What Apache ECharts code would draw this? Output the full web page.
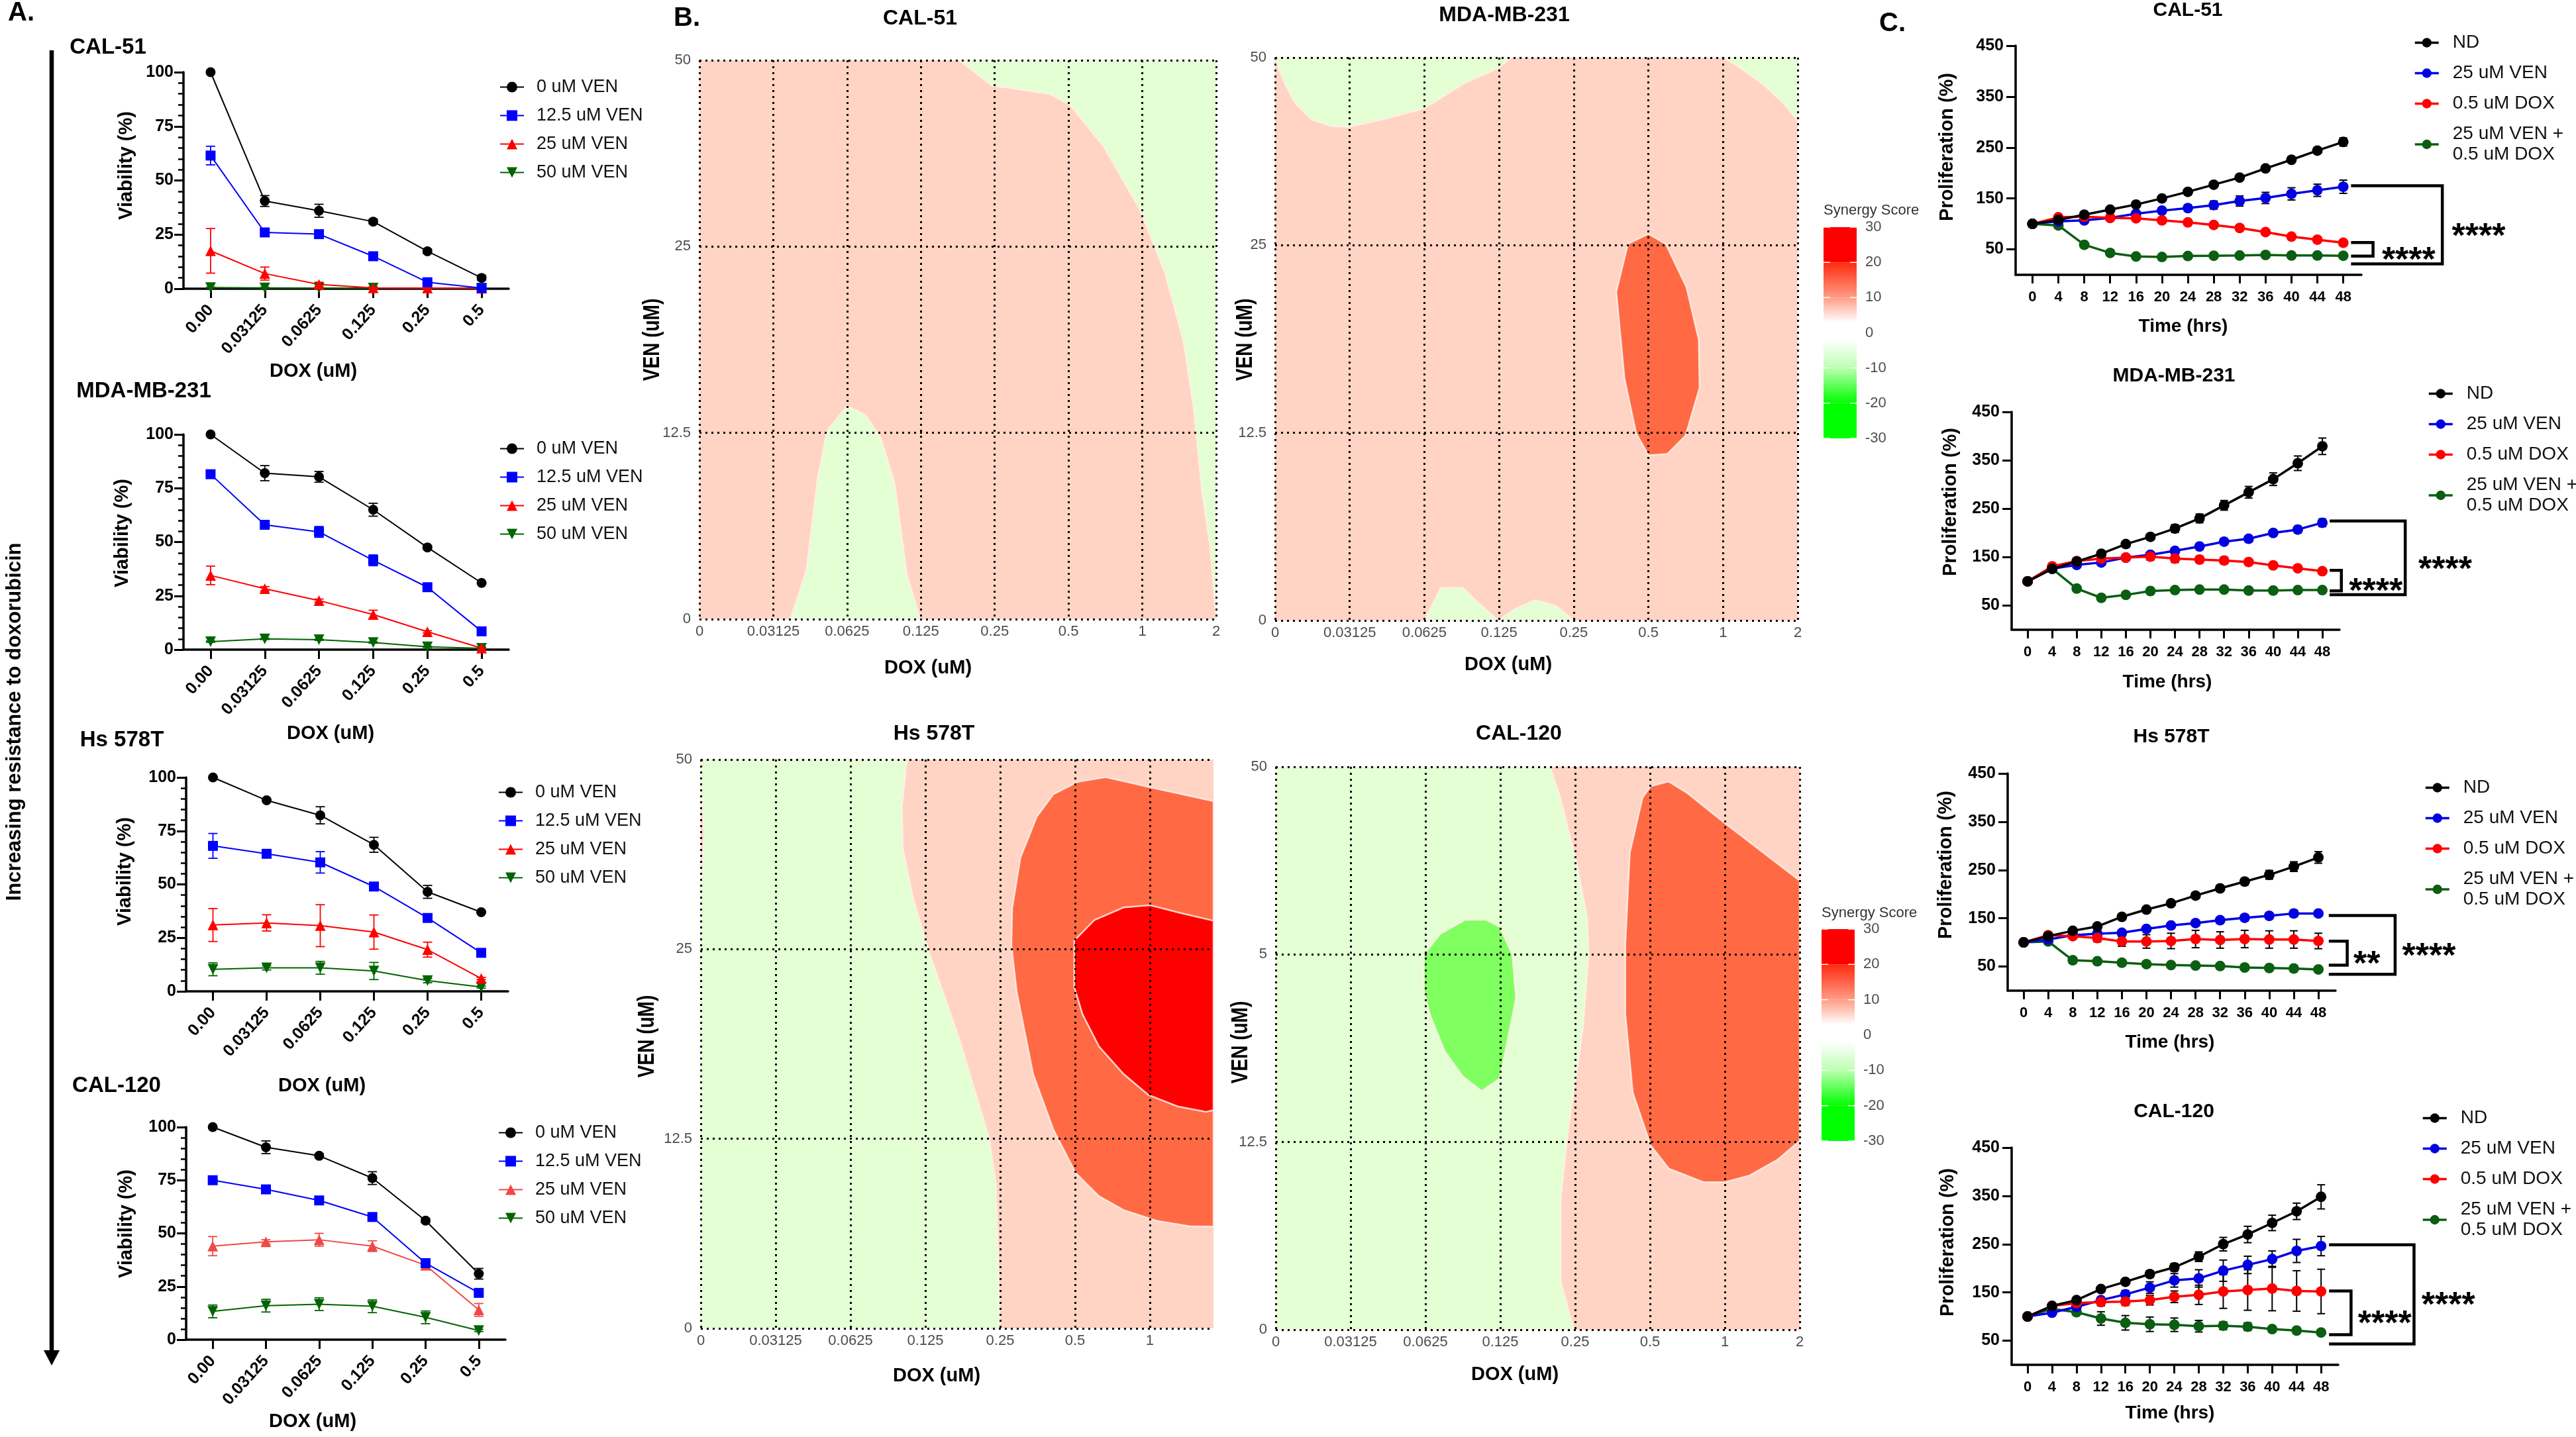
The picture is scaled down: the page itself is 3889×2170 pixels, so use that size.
<!DOCTYPE html>
<html>
<head>
<meta charset="utf-8">
<title>Venetoclax doxorubicin synergy</title>
<script src="https://cdn.jsdelivr.net/npm/echarts@6/dist/echarts.min.js"></script>
<style>
  html, body { margin: 0; padding: 0; background: #fff; }
  #main { width: 3889px; height: 2170px; }
</style>
</head>
<body>
<div id="main"></div>
<script>
// ---------- panel A: viability (%) against DOX dose ----------
const doxDoses = ['0.00', '0.03125', '0.0625', '0.125', '0.25', '0.5'];
const venNames = ['0 uM VEN', '12.5 uM VEN', '25 uM VEN', '50 uM VEN'];

const cal51Ven0 = [100, 40.5, 36, 31, 17.3, 5];
const cal51Ven12 = [61.5, 26, 25.2, 15, 3, 0.3];
const cal51Ven25 = [17.5, 7, 2, 0.4, 0.3, 0.2];
const cal51Ven50 = [0.5, 0.4, 0.3, 0.3, 0.2, 0.2];
const cal51Ven0Err = [0, 2.5, 3, 1, 1, 1];
const cal51Ven12Err = [4.3, 1, 1, 1, 0.5, 0.3];
const cal51Ven25Err = [10.3, 3, 1, 0.5, 0.3, 0.3];
const cal51Ven50Err = [0.2, 0.2, 0.2, 0.2, 0.1, 0.1];

const mdaVen0 = [100, 82, 80.3, 65, 47.5, 31];
const mdaVen12 = [81.5, 58, 54.7, 41.5, 29, 8.5];
const mdaVen25 = [34.5, 28.3, 22.8, 16.3, 8.3, 0.7];
const mdaVen50 = [3.7, 5, 4.6, 3.3, 1.3, 0.6];
const mdaVen0Err = [0, 3.5, 2.5, 3, 0.5, 0.5];
const mdaVen12Err = [0, 1, 2.5, 2.5, 1, 1];
const mdaVen25Err = [4.3, 1, 0.7, 2, 0.5, 0.5];
const mdaVen50Err = [0.3, 0.3, 0.3, 0.3, 0.3, 0.3];

const hsVen0 = [100, 89.3, 82.3, 68.5, 46.5, 37];
const hsVen12 = [68, 64.3, 60.3, 49, 34.3, 18];
const hsVen25 = [31, 32, 30.7, 27.7, 19.5, 6];
const hsVen50 = [10.3, 11, 11, 9.5, 5, 2];
const hsVen0Err = [0, 0.5, 4, 3.5, 3, 0.5];
const hsVen12Err = [5.8, 1, 5, 1, 1, 1];
const hsVen25Err = [7.7, 3.8, 9.8, 8, 3.5, 0.5];
const hsVen50Err = [3, 1, 3, 4, 1, 0.5];

const cal120Ven0 = [100, 90.5, 86.5, 76, 56, 31];
const cal120Ven12 = [75, 70.7, 65.5, 57.7, 36, 22];
const cal120Ven25 = [44, 46, 47, 44, 35, 14];
const cal120Ven50 = [13.3, 16, 16.7, 15.7, 10.5, 4.3];
const cal120Ven0Err = [0, 3, 1, 3, 1, 2.5];
const cal120Ven12Err = [0, 1, 1, 1, 2, 1];
const cal120Ven25Err = [4.5, 1, 3, 2.5, 1, 3];
const cal120Ven50Err = [3, 3, 3, 3, 3, 0.5];

// ---------- panel B: synergy contours, [dose step, VEN step] outlines ----------
const synergyDoseLabels = ['0', '0.03125', '0.0625', '0.125', '0.25', '0.5', '1', '2'];
const synergyVenLabels = ['0', '12.5', '25', '50'];
const synergyVenLabelsCut = ['0', '12.5', '5', '50'];

const cal51GreenTop = [[3.52, 3], [3.96, 2.865], [4.74, 2.82], [5.02, 2.76], [5.47, 2.54], [5.97, 2.197], [6.31, 1.855], [6.56, 1.488], [6.7, 1.12], [6.81, 0.68], [6.92, 0.387], [7, 0], [7, 3]];
const cal51GreenLow = [[1.23, 0], [1.45, 0.264], [1.6, 0.754], [1.73, 1.01], [2, 1.145], [2.25, 1.096], [2.455, 0.974], [2.645, 0.729], [2.81, 0.24], [2.99, 0]];

const mdaGreenLeft = [[0, 3], [0.12, 2.87], [0.265, 2.76], [0.486, 2.67], [0.75, 2.635], [0.994, 2.63], [1.5, 2.676], [2, 2.73], [2.52, 2.86], [2.99, 2.944], [3.16, 3]];
const mdaGreenRight = [[6, 3], [6.14, 2.97], [6.53, 2.86], [6.8, 2.76], [7, 2.664], [7, 3]];
const mdaGreenLow1 = [[2, 0], [2.22, 0.175], [2.517, 0.175], [2.716, 0.097], [2.99, 0]];
const mdaGreenLow2 = [[2.99, 0], [3.21, 0.061], [3.49, 0.109], [3.765, 0.078], [4, 0]];
const mdaOrange = [[5, 2.061], [5.233, 2.007], [5.51, 1.776], [5.675, 1.496], [5.686, 1.241], [5.498, 0.985], [5.256, 0.888], [5, 0.881], [4.836, 0.998], [4.68, 1.29], [4.57, 1.752], [4.726, 2.007]];

const hsGreen = [[0, 3], [2.753, 3], [2.687, 2.75], [2.7, 2.53], [2.84, 2.264], [3.06, 1.972], [3.447, 1.535], [3.855, 1], [3.943, 0.758], [3.998, 0], [0, 0], [0, 2.3], [0.045, 2.6], [0, 2.87]];
const hsOrange = [[6.85, 2.781], [6, 2.854], [5.41, 2.907], [5.04, 2.883], [4.71, 2.817], [4.49, 2.7], [4.27, 2.482], [4.16, 2.215], [4.15, 2.02], [4.22, 1.778], [4.44, 1.341], [4.71, 1.049], [5.01, 0.819], [5.32, 0.697], [5.65, 0.624], [6.09, 0.568], [6.53, 0.539], [6.85, 0.537]];
const hsRed = [[6.85, 2.15], [6.42, 2.19], [6, 2.232], [5.65, 2.22], [5.26, 2.154], [4.99, 2.045], [4.99, 1.8], [5.1, 1.657], [5.32, 1.487], [5.65, 1.341], [5.98, 1.231], [6.37, 1.171], [6.75, 1.142], [6.85, 1.151]];

const cal120Green = [[0, 3], [3.665, 3], [3.8, 2.836], [4.017, 2.492], [4.16, 2.197], [4.18, 2], [4.105, 1.608], [3.907, 1.068], [3.808, 0.7], [3.808, 0.258], [3.984, 0], [0, 0]];
const cal120Lime = [[2.53, 2.185], [2.81, 2.185], [2.99, 2.148], [3.16, 2], [3.21, 1.768], [3.08, 1.51], [2.99, 1.338], [2.75, 1.272], [2.5, 1.35], [2.256, 1.485], [2.058, 1.682], [1.98, 1.805], [1.98, 2], [2.2, 2.11]];
const cal120Orange = [[5.25, 2.922], [5.5, 2.86], [6, 2.7], [7, 2.394], [7, 1.007], [6.71, 0.908], [6.33, 0.822], [6, 0.786], [5.72, 0.786], [5.25, 0.859], [5.01, 0.982], [4.77, 1.264], [4.67, 1.682], [4.67, 2.05], [4.73, 2.541], [4.9, 2.836], [5.01, 2.897]];

const scaleTicks = [-30, -20, -10, 0, 10, 20, 30];
const scaleScores = [-30, -20, -10, -2, 3, 10, 20, 20.01, 30];
const scaleColors = ['#00ff00', '#00ff00', '#bcffb0', '#ffffff', '#ffffff', '#ff9c84', '#ff2a10', '#ff0000', '#ff0000'];

// ---------- panel C: proliferation (%) against time ----------
const hours = [0, 4, 8, 12, 16, 20, 24, 28, 32, 36, 40, 44, 48];
// trailing space keeps this apart from the panel A series of the same name in the legend lookup
const timeNames = ['ND', '25 uM VEN ', '0.5 uM DOX', '25 uM VEN +\n0.5 uM DOX'];

const cal51Nd = [100, 108, 118, 128, 138, 150, 163, 177, 191, 209, 226, 244, 261];
const cal51Ven = [100, 105, 107, 112, 120, 126, 131, 137, 145, 151, 159, 166, 173];
const cal51Dox = [100, 113, 114, 112, 111, 107, 103, 98, 92, 84, 75, 69, 63];
const cal51Combo = [100, 97, 59, 43, 36, 35, 37, 37.5, 38, 39, 38, 38, 37.5];
const cal51NdErr = [0, 3, 3, 3, 3, 3, 4, 4, 4, 5, 5, 5, 8];
const cal51VenErr = [0, 3, 3, 3, 4, 6, 6, 8, 10, 11, 12, 12, 13];
const cal51DoxErr = [0, 4, 3, 3, 3, 3, 3, 3, 3, 3, 3, 3, 3];
const cal51ComboErr = [0, 3, 4, 4, 3, 3, 3, 3, 3, 3, 3, 3, 3];

const mdaNd = [100, 126, 141, 157, 177, 192, 209, 230, 257, 284, 311, 344, 379];
const mdaVen = [100, 126, 134, 139, 149, 155, 163, 172, 182, 188, 200, 207, 221];
const mdaDox = [100, 131, 142, 147, 149, 151, 147, 145, 143, 140, 133, 127, 121];
const mdaCombo = [100, 126, 85, 66, 72, 80, 82, 83, 83, 81, 81, 82, 82];
const mdaNdErr = [0, 4, 4, 5, 6, 6, 8, 9, 10, 12, 13, 15, 17];
const mdaVenErr = [0, 3, 3, 3, 4, 4, 5, 5, 6, 6, 6, 7, 8];
const mdaDoxErr = [0, 3, 4, 5, 6, 7, 8, 7, 7, 6, 5, 4, 3];
const mdaComboErr = [0, 3, 4, 3, 3, 3, 3, 3, 3, 3, 3, 3, 3];

const hsNd = [100, 113, 124, 133, 153, 168, 181, 197, 212, 226, 240, 257, 276];
const hsVen = [100, 106, 115, 118, 120, 128, 135, 140, 146, 151, 155, 160, 160];
const hsDox = [100, 115, 113, 109, 102, 102, 103, 107, 105, 107, 106, 106, 103];
const hsCombo = [100, 102, 63, 61, 58, 55, 53, 52, 51, 48, 47, 46, 44];
const hsNdErr = [0, 3, 3, 4, 4, 5, 5, 6, 6, 7, 9, 10, 12];
const hsVenErr = [0, 3, 3, 3, 3, 4, 5, 5, 6, 6, 6, 7, 6];
const hsDoxErr = [0, 3, 4, 8, 10, 14, 16, 18, 17, 18, 18, 18, 16];
const hsComboErr = [0, 3, 6, 4, 3, 3, 3, 3, 3, 3, 3, 3, 3];

const cal120Nd = [100, 122, 134, 157, 172, 188, 202, 224, 250, 270, 294, 318, 348];
const cal120Ven = [100, 108, 120, 134, 146, 160, 175, 179, 195, 207, 219, 236, 246];
const cal120Dox = [100, 122, 128, 130, 131, 134, 141, 145, 152, 155, 158, 153, 152];
const cal120Combo = [100, 116, 109, 96, 87, 84, 83, 80, 81, 79, 74, 71, 67];
const cal120NdErr = [0, 5, 5, 6, 5, 7, 8, 10, 14, 17, 16, 17, 25];
const cal120VenErr = [0, 5, 5, 5, 8, 12, 14, 18, 22, 18, 17, 24, 20];
const cal120DoxErr = [0, 5, 5, 8, 8, 10, 12, 20, 35, 42, 46, 42, 46];
const cal120ComboErr = [0, 3, 5, 14, 15, 15, 14, 12, 8, 8, 6, 5, 4];

// significance brackets, in [hours, percent]
const cal51Brackets = [[[49.2, 175], [63.3, 175], [63.3, 21.4], [49.2, 21.4]], [[49.2, 63.4], [52.6, 63.4], [52.6, 36.6], [49.2, 36.6]]];
const cal51Stars = [['****', 68.9, 90], ['****', 58.1, 43.7]];
const mdaBrackets = [[[49.2, 224.5], [61.5, 224.5], [61.5, 72.6], [49.2, 72.6]], [[49.2, 122.6], [51.1, 122.6], [51.1, 80.2], [49.2, 80.2]]];
const mdaStars = [['****', 68, 139.6], ['****', 56.7, 94.3]];
const hsBrackets = [[[49.7, 155.7], [60.5, 155.7], [60.5, 33.8], [49.7, 33.8]], [[49.7, 102.4], [52.7, 102.4], [52.7, 52.9], [49.7, 52.9]]];
const hsStars = [['****', 66, 87], ['**', 55.9, 70]];
const cal120Brackets = [[[49.3, 248.6], [63.2, 248.6], [63.2, 43.3], [49.3, 43.3]], [[49.3, 153.1], [52.9, 153.1], [52.9, 62.4], [49.3, 62.4]]];
const cal120Stars = [['****', 68.8, 138.8], ['****', 58.4, 100.6]];

const FONT = '"Liberation Sans", Arial, sans-serif';
const grid = [], xAxis = [], yAxis = [], series = [], legend = [], graphic = [];

function addGrid(box, extra) {
  grid.push(Object.assign({left: box[0], top: box[1], width: box[2] - box[0], height: box[3] - box[1]}, extra));
  return grid.length - 1;
}

function addText(text, x, y, size, opts) {
  opts = opts || {};
  graphic.push({
    type: 'text', x: x, y: y, rotation: opts.rotate || 0, scaleY: opts.scaleY || 1, silent: true,
    style: {
      text: text, fill: opts.color || '#000', align: opts.align || 'center', verticalAlign: 'middle',
      font: (opts.weight || 'bold') + ' ' + size + 'px ' + FONT
    }
  });
}

function errorSeries(gi, points, color, cap, width, z) {
  series.push({
    type: 'custom', xAxisIndex: gi, yAxisIndex: gi, clip: false, z: z, silent: true,
    data: points, encode: {x: 0, y: [1, 2]},
    renderItem: function (params, api) {
      const lo = api.coord([api.value(0), api.value(1)]);
      const hi = api.coord([api.value(0), api.value(2)]);
      const style = {stroke: color, lineWidth: width, fill: null};
      return {type: 'group', children: [
        {type: 'line', shape: {x1: lo[0], y1: lo[1], x2: hi[0], y2: hi[1]}, style: style},
        {type: 'line', shape: {x1: lo[0] - cap, y1: lo[1], x2: lo[0] + cap, y2: lo[1]}, style: style},
        {type: 'line', shape: {x1: hi[0] - cap, y1: hi[1], x2: hi[0] + cap, y2: hi[1]}, style: style}
      ]};
    }
  });
}

// ---------- panel A ----------
const venStyles = [
  {symbol: 'circle', size: 15, color: '#000000', rotate: 0},
  {symbol: 'rect', size: 15, color: '#0000ff', rotate: 0},
  {symbol: 'triangle', size: 16, color: '#ff0000', rotate: 0},
  {symbol: 'triangle', size: 16, color: '#006400', rotate: 180}
];

function viabilityPanel(box, lines, errs, legendPos, red) {
  const gi = addGrid(box);
  xAxis.push({
    type: 'category', gridIndex: gi, data: doxDoses, boundaryGap: true,
    axisLine: {lineStyle: {color: '#000', width: 3.5}},
    axisTick: {show: true, alignWithLabel: true, length: 14, lineStyle: {color: '#000', width: 3}},
    axisLabel: {rotate: 48, margin: 28, color: '#000', fontFamily: FONT, fontWeight: 'bold', fontSize: 25, interval: 0},
    splitLine: {show: false}
  });
  yAxis.push({
    type: 'value', gridIndex: gi, min: 0, max: 100, interval: 25,
    axisLine: {show: true, lineStyle: {color: '#000', width: 3.5}},
    axisTick: {show: true, length: 14, lineStyle: {color: '#000', width: 3}},
    minorTick: {show: true, splitNumber: 5, length: 8, lineStyle: {color: '#000', width: 2.5}},
    axisLabel: {margin: 15, color: '#000', fontFamily: FONT, fontWeight: 'bold', fontSize: 25},
    splitLine: {show: false}
  });
  // 50 uM first so that 0 uM ends up on top
  for (let i = 3; i >= 0; i--) {
    const s = venStyles[i];
    const color = i === 2 && red ? red : s.color;
    errorSeries(gi, lines[i].map(function (v, k) { return [k, v - errs[i][k], v + errs[i][k]]; }), color, 7, 1.8, 3);
    series.push({
      type: 'line', name: venNames[i], xAxisIndex: gi, yAxisIndex: gi, data: lines[i], clip: false, z: 4,
      symbol: s.symbol, symbolSize: s.size, symbolRotate: s.rotate,
      lineStyle: {color: color, width: 2}, itemStyle: {color: color}
    });
  }
  legend.push({
    orient: 'vertical', left: legendPos[0], top: legendPos[1], itemGap: 16, itemWidth: 36, itemHeight: 20,
    textStyle: {fontFamily: FONT, fontSize: 27, color: '#111', padding: [0, 0, 0, 14]},
    data: venNames.map(function (n, i) {
      const color = i === 2 && red ? red : venStyles[i].color;
      return {name: n, itemStyle: {color: color}, lineStyle: {color: color, width: 2}};
    })
  });
}

viabilityPanel([277, 109, 768, 436], [cal51Ven0, cal51Ven12, cal51Ven25, cal51Ven50], [cal51Ven0Err, cal51Ven12Err, cal51Ven25Err, cal51Ven50Err], [749, 113]);
viabilityPanel([277, 656, 768, 981], [mdaVen0, mdaVen12, mdaVen25, mdaVen50], [mdaVen0Err, mdaVen12Err, mdaVen25Err, mdaVen50Err], [749, 659]);
viabilityPanel([281, 1174, 767, 1497], [hsVen0, hsVen12, hsVen25, hsVen50], [hsVen0Err, hsVen12Err, hsVen25Err, hsVen50Err], [747, 1178]);
viabilityPanel([281, 1702, 763, 2023], [cal120Ven0, cal120Ven12, cal120Ven25, cal120Ven50], [cal120Ven0Err, cal120Ven12Err, cal120Ven25Err, cal120Ven50Err], [747, 1692], '#f04848');

// ---------- panel B ----------
const PEACH = '#ffd4c4', PALE_GREEN = '#e3ffd3', ORANGE = '#ff6a45', RED = '#ff0000', LIME = '#80ff60';

function contourSeries(gi, points, fill, z) {
  series.push({
    type: 'custom', xAxisIndex: gi, yAxisIndex: gi, z: z, silent: true, clip: false,
    data: points, encode: {x: 0, y: 1},
    renderItem: function (params, api) {
      if (params.dataIndex !== 0) return null;
      return {
        type: 'polygon',
        shape: {points: points.map(function (p) { return api.coord(p); })},
        style: {fill: fill, stroke: 'rgba(255,240,232,0.85)', lineWidth: 2.5}
      };
    }
  });
}

function synergyPanel(box, xMax, venLabels, regions) {
  const gi = addGrid(box, {show: true, backgroundColor: PEACH, borderWidth: 0});
  xAxis.push({
    type: 'value', gridIndex: gi, min: 0, max: xMax, interval: 1, z: 10,
    axisLine: {show: false}, axisTick: {show: false},
    axisLabel: {
      margin: 8, color: '#4d4d4d', fontFamily: FONT, fontSize: 22, hideOverlap: false,
      formatter: function (v) { return Number.isInteger(v) ? synergyDoseLabels[v] : ''; }
    },
    splitLine: {show: true, showMaxLine: xMax === 7, lineStyle: {color: '#000', width: 3, type: [3, 6]}}
  });
  yAxis.push({
    type: 'value', gridIndex: gi, min: 0, max: 3, interval: 1, z: 10,
    axisLine: {show: false}, axisTick: {show: false},
    axisLabel: {
      margin: 13, color: '#4d4d4d', fontFamily: FONT, fontSize: 22,
      formatter: function (v) { return venLabels[v]; }
    },
    splitLine: {show: true, lineStyle: {color: '#000', width: 3, type: [3, 6]}}
  });
  regions.forEach(function (r, i) { contourSeries(gi, r[0], r[1], 2 + i * 0.01); });
}

synergyPanel([1056, 91, 1836, 935], 7, synergyVenLabels, [[cal51GreenTop, PALE_GREEN], [cal51GreenLow, PALE_GREEN]]);
synergyPanel([1925, 87, 2714, 937], 7, synergyVenLabels, [[mdaGreenLeft, PALE_GREEN], [mdaGreenRight, PALE_GREEN], [mdaGreenLow1, PALE_GREEN], [mdaGreenLow2, PALE_GREEN], [mdaOrange, ORANGE]]);
synergyPanel([1058, 1147, 1832, 2006], 6.85, synergyVenLabels, [[hsGreen, PALE_GREEN], [hsOrange, ORANGE], [hsRed, RED]]);
synergyPanel([1926, 1158, 2717, 2008], 7, synergyVenLabelsCut, [[cal120Green, PALE_GREEN], [cal120Lime, LIME], [cal120Orange, ORANGE]]);

function scalePanel(box) {
  const gi = addGrid(box);
  xAxis.push({type: 'value', gridIndex: gi, min: 0, max: 1, show: false});
  yAxis.push({
    type: 'value', gridIndex: gi, min: -30, max: 30, interval: 10,
    axisLine: {show: false}, axisTick: {show: false}, splitLine: {show: false},
    axisLabel: {margin: -63, align: 'left', color: '#4d4d4d', fontFamily: FONT, fontSize: 22}
  });
  // cells between neighbouring score stops, ticks drawn on top in white
  series.push({
    type: 'custom', xAxisIndex: gi, yAxisIndex: gi, silent: true, z: 3,
    data: scaleScores.slice(0, -1).map(function (s, i) { return [s, scaleScores[i + 1], i]; }),
    encode: {y: [0, 1]},
    renderItem: function (params, api) {
      const a = api.coord([0, api.value(0)]), b = api.coord([1, api.value(1)]);
      const i = api.value(2);
      return {
        type: 'rect', shape: {x: a[0], y: b[1], width: b[0] - a[0], height: a[1] - b[1]},
        style: {fill: new echarts.graphic.LinearGradient(0, 1, 0, 0, [
          {offset: 0, color: scaleColors[i]}, {offset: 1, color: scaleColors[i + 1]}
        ])}
      };
    }
  });
  series.push({
    type: 'custom', xAxisIndex: gi, yAxisIndex: gi, silent: true, z: 4,
    data: scaleTicks.map(function (t) { return [t]; }),
    encode: {y: 0},
    renderItem: function (params, api) {
      const a = api.coord([0, api.value(0)]), b = api.coord([1, api.value(0)]);
      const style = {stroke: '#fff', lineWidth: 1.5};
      return {type: 'group', children: [
        {type: 'line', shape: {x1: a[0], y1: a[1], x2: a[0] + 10, y2: a[1]}, style: style},
        {type: 'line', shape: {x1: b[0] - 10, y1: a[1], x2: b[0], y2: a[1]}, style: style}
      ]};
    }
  });
}
scalePanel([2753, 343, 2803, 662]);
scalePanel([2750, 1403, 2800, 1723]);

// ---------- panel C ----------
const timeColors = ['#000000', '#0000e0', '#ff0000', '#0b5e12'];
const percentTicks = [50, 150, 250, 350, 450];

function timePanel(box, lines, errs, brackets, stars, legendPos) {
  const gi = addGrid(box);
  xAxis.push({
    type: 'value', gridIndex: gi, min: -2.6, max: 50.8,
    axisLine: {onZero: false, lineStyle: {color: '#000', width: 3.5}},
    axisTick: {show: true, customValues: hours, length: 13, lineStyle: {color: '#000', width: 3}},
    axisLabel: {customValues: hours, margin: 23, color: '#000', fontFamily: FONT, fontWeight: 'bold', fontSize: 22},
    splitLine: {show: false}
  });
  yAxis.push({
    type: 'value', gridIndex: gi, min: 0, max: 450,
    axisLine: {show: true, onZero: false, lineStyle: {color: '#000', width: 3.5}},
    axisTick: {show: true, customValues: percentTicks, length: 14, lineStyle: {color: '#000', width: 3}},
    axisLabel: {customValues: percentTicks, margin: 18, color: '#000', fontFamily: FONT, fontWeight: 'bold', fontSize: 25},
    splitLine: {show: false}
  });
  [3, 1, 2, 0].forEach(function (i) {
    errorSeries(gi, hours.map(function (h, k) { return [h, lines[i][k] - errs[i][k], lines[i][k] + errs[i][k]]; }), '#000', 6, 2, 3);
    series.push({
      type: 'line', name: timeNames[i], xAxisIndex: gi, yAxisIndex: gi, clip: false, z: 4,
      data: hours.map(function (h, k) { return [h, lines[i][k]]; }),
      symbol: 'circle', symbolSize: 16,
      lineStyle: {color: timeColors[i], width: 3.5}, itemStyle: {color: timeColors[i]}
    });
  });
  series.push({
    type: 'custom', xAxisIndex: gi, yAxisIndex: gi, silent: true, clip: false, z: 5,
    data: [[48, 100]], encode: {x: 0, y: 1},
    renderItem: function (params, api) {
      const kids = brackets.map(function (b) {
        return {type: 'polyline', shape: {points: b.map(function (p) { return api.coord(p); })}, style: {stroke: '#000', lineWidth: 4.5, fill: null}};
      });
      stars.forEach(function (s) {
        const at = api.coord([s[1], s[2]]);
        kids.push({type: 'text', x: at[0], y: at[1] + 13, style: {text: s[0], fill: '#000', align: 'center', verticalAlign: 'middle', font: 'bold 52px ' + FONT}});
      });
      return {type: 'group', children: kids};
    }
  });
  legend.push({
    orient: 'vertical', left: legendPos[0], top: legendPos[1], itemGap: 15, itemWidth: 36, itemHeight: 18,
    textStyle: {fontFamily: FONT, fontSize: 28, color: '#111', lineHeight: 31, padding: [0, 0, 0, 16]},
    data: timeNames.map(function (n, i) {
      return {name: n, itemStyle: {color: timeColors[i]}, lineStyle: {color: timeColors[i], width: 3.5}};
    })
  });
}

timePanel([3043, 69, 3565, 415], [cal51Nd, cal51Ven, cal51Dox, cal51Combo], [cal51NdErr, cal51VenErr, cal51DoxErr, cal51ComboErr], cal51Brackets, cal51Stars, [3639, 44]);
timePanel([3037, 622, 3532, 951], [mdaNd, mdaVen, mdaDox, mdaCombo], [mdaNdErr, mdaVenErr, mdaDoxErr, mdaComboErr], mdaBrackets, mdaStars, [3660, 574]);
timePanel([3031, 1168, 3526, 1496], [hsNd, hsVen, hsDox, hsCombo], [hsNdErr, hsVenErr, hsDoxErr, hsComboErr], hsBrackets, hsStars, [3655, 1169]);
timePanel([3037, 1733, 3530, 2061], [cal120Nd, cal120Ven, cal120Dox, cal120Combo], [cal120NdErr, cal120VenErr, cal120DoxErr, cal120ComboErr], cal120Brackets, cal120Stars, [3651, 1668]);

// ---------- loose text and the resistance arrow ----------
addText('A.', 32, 20, 40);
addText('B.', 1037, 28, 40);
addText('C.', 2857, 36, 40);

addText('CAL-51', 163, 72, 33);
addText('MDA-MB-231', 217, 591, 33);
addText('Hs 578T', 184, 1118, 33);
addText('CAL-120', 176, 1640, 33);

addText('DOX (uM)', 473, 561, 29);
addText('DOX (uM)', 499, 1108, 29);
addText('DOX (uM)', 486, 1640, 29);
addText('DOX (uM)', 472, 2147, 29);

const UP = Math.PI / 2;
addText('Viability (%)', 191, 250, 29, {rotate: UP});
addText('Viability (%)', 185, 805, 29, {rotate: UP});
addText('Viability (%)', 189, 1316, 29, {rotate: UP});
addText('Viability (%)', 191, 1848, 29, {rotate: UP});

addText('CAL-51', 1389, 28, 32);
addText('MDA-MB-231', 2271, 23, 32);
addText('Hs 578T', 1410, 1108, 32);
addText('CAL-120', 2293, 1108, 32);

addText('DOX (uM)', 1401, 1009, 29);
addText('DOX (uM)', 2277, 1004, 29);
addText('DOX (uM)', 1414, 2078, 29);
addText('DOX (uM)', 2287, 2076, 29);

addText('VEN (uM)', 985, 513, 28, {rotate: UP, scaleY: 1.25});
addText('VEN (uM)', 1880, 513, 28, {rotate: UP, scaleY: 1.25});
addText('VEN (uM)', 977, 1565, 28, {rotate: UP, scaleY: 1.25});
addText('VEN (uM)', 1873, 1574, 28, {rotate: UP, scaleY: 1.25});

addText('Synergy Score', 2753, 318, 22, {align: 'left', weight: 'normal', color: '#333'});
addText('Synergy Score', 2750, 1379, 22, {align: 'left', weight: 'normal', color: '#333'});

addText('CAL-51', 3303, 16, 30);
addText('MDA-MB-231', 3282, 568, 30);
addText('Hs 578T', 3278, 1113, 30);
addText('CAL-120', 3282, 1679, 30);

addText('Time (hrs)', 3296, 493, 28);
addText('Time (hrs)', 3272, 1030, 28);
addText('Time (hrs)', 3276, 1574, 28);
addText('Time (hrs)', 3276, 2134, 28);

addText('Proliferation (%)', 2940, 222, 29, {rotate: UP});
addText('Proliferation (%)', 2945, 758, 29, {rotate: UP});
addText('Proliferation (%)', 2938, 1306, 29, {rotate: UP});
addText('Proliferation (%)', 2941, 1876, 29, {rotate: UP});

addText('Increasing resistance to doxorubicin', 22, 1090, 31, {rotate: UP});

graphic.push({type: 'line', silent: true, shape: {x1: 78, y1: 76, x2: 78, y2: 2042}, style: {stroke: '#000', lineWidth: 6.5}});
graphic.push({type: 'polygon', silent: true, shape: {points: [[66, 2039], [90, 2039], [78, 2062]]}, style: {fill: '#000'}});

const chart = echarts.init(document.getElementById('main'), null, {renderer: 'canvas'});
chart.setOption({
  animation: false,
  backgroundColor: '#fff',
  grid: grid, xAxis: xAxis, yAxis: yAxis, series: series, legend: legend,
  graphic: {elements: graphic}
});
</script>
</body>
</html>
